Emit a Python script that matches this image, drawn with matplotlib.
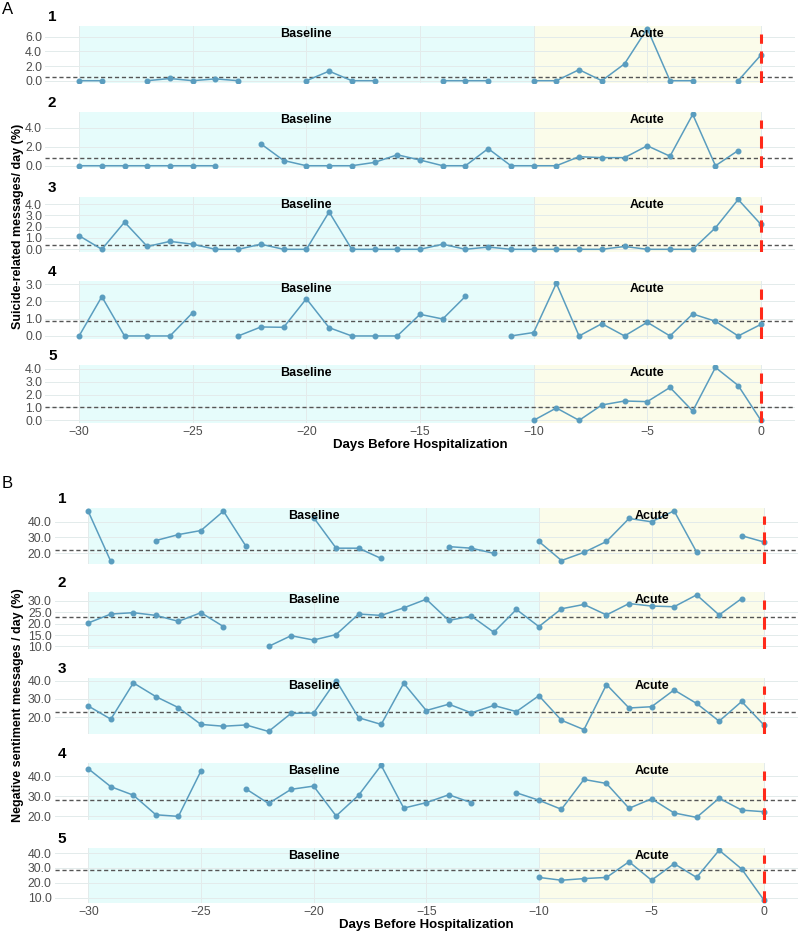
import numpy as np
import matplotlib
matplotlib.use("Agg")
import matplotlib.pyplot as plt
import matplotlib.ticker as mticker

plt.rcParams["font.family"] = ["Liberation Sans", "DejaVu Sans"]

nan = np.nan
days = list(range(-30, 1))

# A: suicide-related messages / day (%), days -30 .. 0
suicide_1 = [0, 0, nan, 0, 0.3, 0, 0.25, 0, nan, nan, 0, 1.3, 0, 0, nan, nan,
             0, 0, 0, nan, 0, 0, 1.5, 0, 2.3, 7.1, 0, 0, nan, 0, 3.5]
suicide_2 = [0, 0, 0, 0, 0, 0, 0, nan, 2.3, 0.55, 0, 0, 0, 0.35, 1.15, 0.6,
             0, 0, 1.8, 0, 0, 0, 0.95, 0.85, 0.85, 2.1, 1.0, 5.4, 0, 1.6, nan]
suicide_3 = [1.2, 0, 2.4, 0.25, 0.7, 0.45, 0, 0, 0.45, 0, 0, 3.3, 0, 0, 0, 0,
             0.45, 0, 0.2, 0, 0, 0, 0, 0, 0.25, 0, 0, 0, 1.9, 4.4, 2.2]
suicide_4 = [0, 2.27, 0, 0, 0, 1.35, nan, 0, 0.52, 0.5, 2.15, 0.48, 0, 0, 0, 1.25,
             0.98, 2.29, nan, 0, 0.2, 3.04, 0, 0.71, 0, 0.79, 0, 1.27, 0.85, 0, 0.67]
suicide_5 = [nan] * 20 + [0, 0.96, 0, 1.19, 1.5, 1.45, 2.55, 0.72, 4.1, 2.7, 0]
suicide_means = [0.47, 0.82, 0.36, 0.85, 1.06]
suicide_ticks = [[0, 2, 4, 6], [0, 2, 4], [0, 1, 2, 3, 4], [0, 1, 2, 3], [0, 1, 2, 3, 4]]

# B: negative sentiment messages / day (%)
negative_1 = [46.6, 14.6, nan, 28.0, 31.8, 34.4, 46.8, 24.3, nan, nan, 42.7, 23.1, 23.1, 16.5, nan, nan,
              24.1, 23.1, 19.8, nan, 27.4, 15.2, 20.4, 27.4, 42.1, 40.0, 47.0, 20.6, nan, 31.1, 27.0]
negative_2 = [20.3, 24.2, 24.8, 23.6, 21.0, 24.8, 18.7, nan, 10.0, 14.7, 12.8, 15.2, 24.2, 23.6, 26.9, 30.7,
              21.4, 23.3, 16.2, 26.2, 18.7, 26.5, 28.4, 23.8, 28.8, 27.7, 27.4, 32.6, 23.8, 31.0, nan]
negative_3 = [26.1, 18.8, 38.9, 31.3, 25.2, 15.9, 14.9, 15.6, 12.0, 22.0, 22.2, 40.2, 19.6, 15.9, 38.7, 23.6,
              27.1, 22.3, 26.4, 23.0, 31.8, 18.2, 13.0, 38.0, 25.0, 25.7, 35.0, 27.5, 17.7, 28.6, 15.4]
negative_4 = [43.6, 34.7, 30.5, 20.8, 20.0, 42.5, nan, 33.6, 26.4, 33.4, 35.0, 20.2, 30.5, 45.3, 24.1, 26.8,
              30.7, 26.8, nan, 31.7, 28.0, 23.5, 38.3, 36.3, 24.0, 28.7, 21.7, 19.5, 29.0, 23.1, 22.3]
negative_5 = [nan] * 20 + [23.6, 21.7, 22.8, 23.6, 34.2, 21.7, 32.9, 23.6, 42.0, 29.3, 8.0]
negative_means = [21.9, 23.0, 22.9, 28.2, 28.5]
negative_ticks = [[20, 30, 40], [10, 15, 20, 25, 30], [20, 30, 40], [20, 30, 40], [10, 20, 30, 40]]

x_ticks = [-30, -25, -20, -15, -10, -5, 0]

LINE_COLOR = "#5a9dbf"
BASE_COLOR = "#e6fcfb"
ACUTE_COLOR = "#fbfcea"
GRID_COLOR = "#e3ebeb"
TICK_COLOR = "#4d4d4d"

W, H = 800, 932


def add_axes_px(fig, left, right, top, bottom):
    return fig.add_axes([left / W, 1 - bottom / H, (right - left) / W, (bottom - top) / H])


def draw_panel(ax, values, mean, ticks, number, show_x):
    ax.axvspan(-30, -10, color=BASE_COLOR, lw=0, zorder=0)
    ax.axvspan(-10, 0, color=ACUTE_COLOR, lw=0, zorder=0)
    ax.grid(True, color=GRID_COLOR, lw=0.7)
    ax.plot(days, values, color=LINE_COLOR, lw=1.1, marker="o", ms=3.3, zorder=3)
    ax.axhline(mean, color="#555555", lw=1.0, ls=(0, (3, 2)), zorder=2.5)
    ax.axvline(0, ymax=0.86, color="#ff2a1a", lw=2.2, ls=(0, (4, 2.5)), zorder=4)

    vals = np.array(values, dtype=float)
    lo, hi = np.nanmin(vals), np.nanmax(vals)
    pad = (hi - lo) * 0.05
    ax.set_ylim(lo - pad, hi + pad)
    ax.set_xlim(-31.5, 1.5)
    ax.set_yticks(ticks)
    ax.set_xticks(x_ticks)
    ax.yaxis.set_major_formatter(mticker.FormatStrFormatter("%.1f"))
    ax.tick_params(length=0, labelsize=8.8, labelcolor=TICK_COLOR, pad=2,
                   labelbottom=show_x)
    for s in ax.spines.values():
        s.set_visible(False)

    for label, xpos in [("Baseline", -20), ("Acute", -5)]:
        ax.annotate(label, xy=(xpos, 1), xycoords=("data", "axes fraction"),
                    xytext=(0, -8), textcoords="offset pixels",
                    ha="center", va="center", fontsize=9, fontweight="bold", zorder=5)
    ax.annotate(str(number), xy=(0, 1), xycoords="axes fraction",
                xytext=(3, 9), textcoords="offset pixels",
                ha="left", va="center", fontsize=11, fontweight="bold")


fig = plt.figure(figsize=(W / 100, H / 100), dpi=100)

rows_a = [(26, 83.3), (111.8, 168.3), (197, 251.8), (280.7, 338.6), (364.8, 423)]
rows_b = [(508.3, 564), (592.3, 649), (678, 734), (762.7, 820), (847.7, 903)]

suicide = [suicide_1, suicide_2, suicide_3, suicide_4, suicide_5]
negative = [negative_1, negative_2, negative_3, negative_4, negative_5]

for i, (top, bottom) in enumerate(rows_a):
    ax = add_axes_px(fig, 45, 795, top, bottom)
    draw_panel(ax, suicide[i], suicide_means[i], suicide_ticks[i], i + 1, i == 4)
    if i == 4:
        ax.set_xlabel("Days Before Hospitalization", fontsize=9.5, fontweight="bold", labelpad=1)

for i, (top, bottom) in enumerate(rows_b):
    ax = add_axes_px(fig, 54.5, 798, top, bottom)
    draw_panel(ax, negative[i], negative_means[i], negative_ticks[i], i + 1, i == 4)
    if i == 4:
        ax.set_xlabel("Days Before Hospitalization", fontsize=9.5, fontweight="bold", labelpad=1)

fig.text(18 / W, 1 - 226 / H, "Suicide-related messages/ day (%)", rotation=90,
         ha="center", va="center", fontsize=9, fontweight="bold")
fig.text(18 / W, 1 - 705 / H, "Negative sentiment messages / day (%)", rotation=90,
         ha="center", va="center", fontsize=9, fontweight="bold")
fig.text(2 / W, 1 - 9 / H, "A", ha="left", va="center", fontsize=12)
fig.text(2 / W, 1 - 483 / H, "B", ha="left", va="center", fontsize=12)

fig.savefig("out.png", dpi=100, facecolor="white")
